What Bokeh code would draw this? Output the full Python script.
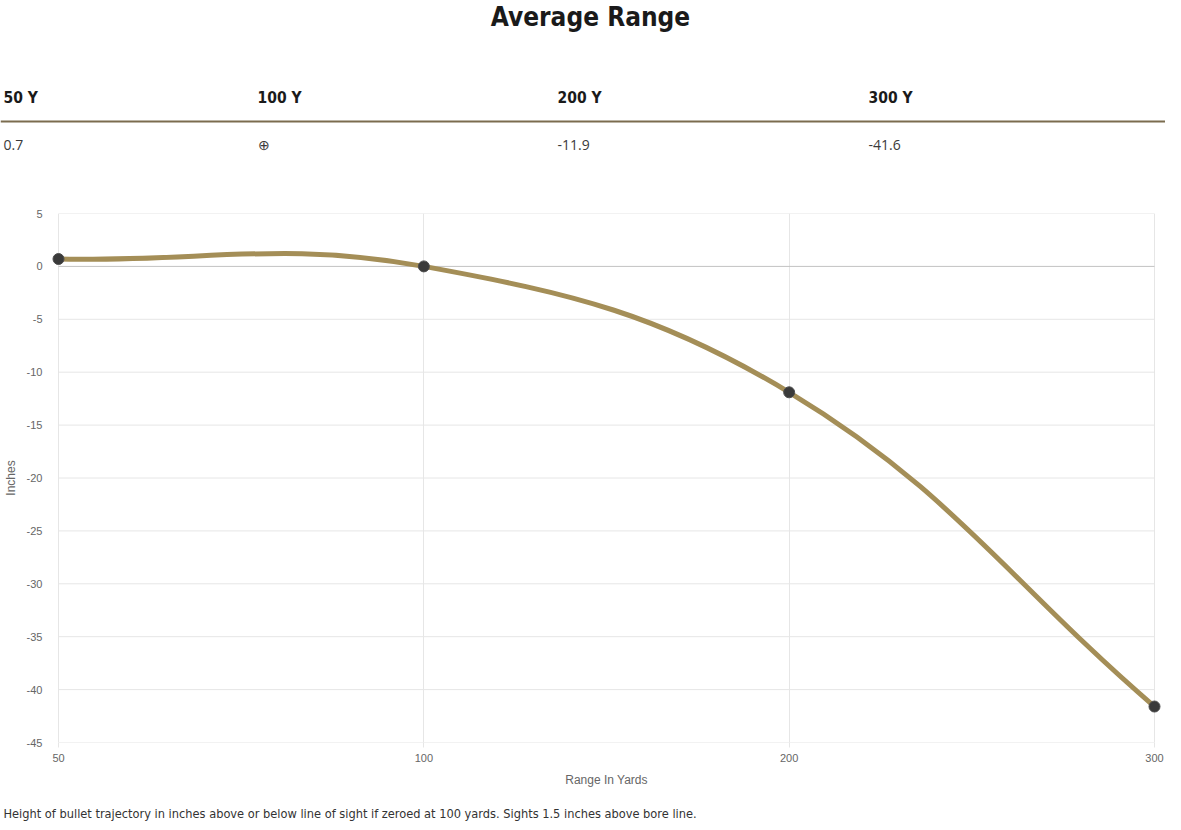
import math
from bokeh.plotting import figure
from bokeh.layouts import column
from bokeh.models import Range1d, FixedTicker
from bokeh.core.properties import value
from bokeh.embed import file_html
from bokeh.resources import INLINE

# ---------------- data ----------------
chart_title = "Average Range"
ranges_yd = ["50", "100", "200", "300"]
drop_inches = [0.7, 0.0, -11.9, -41.6]
y_ticks = [-45, -40, -35, -30, -25, -20, -15, -10, -5, 0, 5]
x_axis_title = "Range In Yards"
y_axis_title = "Inches"
zero_symbol = "⊕"
caption = ("Height of bullet trajectory in inches above or below line of sight "
           "if zeroed at 100 yards. Sights 1.5 inches above bore line.")

header_labels = [f"{r} Y" for r in ranges_yd]
header_values = [zero_symbol if v == 0 else f"{v:g}" for v in drop_inches]

# ---------------- style / layout ----------------
W = 1165
H1, H2, H3 = 190, 600, 32
BORDER_L, BORDER_R, BORDER_T, BORDER_B = 51, 4, 23, 48
COND = "DejaVu Sans Condensed, Liberation Sans Narrow, Roboto"
LINE_COLOR = "#a48e57"
RULE_COLOR = "#7b6c4f"


def text_strip(height):
    f = figure(width=W, height=height, x_range=Range1d(0, W), y_range=Range1d(height, 0),
               x_axis_location=None, y_axis_location=None,
               output_backend="svg", toolbar_location=None, min_border=0)
    f.frame_align = False
    f.grid.visible = False
    f.outline_line_color = None
    return f


# ---------------- header (title + table) ----------------
hdr = text_strip(H1)
hdr.text(x=[590], y=[16], text=[chart_title], text_font=value(COND),
         text_font_style="bold", text_font_size="26px", text_color="#1a1a1a",
         text_align="center", text_baseline="middle")

col_x = [3, 257, 557, 868]
hdr.text(x=col_x, y=[97] * 4, text=header_labels, text_font=value(COND),
         text_font_style="bold", text_font_size="15.5px", text_color="#1a1a1a",
         text_align="left", text_baseline="middle")
hdr.segment(x0=[0], y0=[121], x1=[W], y1=[121], line_color=RULE_COLOR, line_width=2)
hdr.text(x=col_x, y=[144] * 4, text=header_values, text_font=value("Open Sans"),
         text_font_size="14px", text_color="#3a3a3a",
         text_align="left", text_baseline="middle")

# ---------------- chart ----------------
n = len(ranges_yd)
xs = list(range(n))
pad_px = 7
frame_w = W - BORDER_L - BORDER_R
frame_h = H2 - BORDER_T - BORDER_B
inner_w = frame_w - 2 * pad_px
pad = pad_px / (inner_w / (n - 1))

p = figure(width=W, height=H2, output_backend="svg", toolbar_location=None,
           x_range=Range1d(xs[0] - pad, xs[-1] + pad),
           y_range=Range1d(y_ticks[0], y_ticks[-1]),
           min_border_left=BORDER_L, min_border_right=BORDER_R,
           min_border_top=BORDER_T, min_border_bottom=BORDER_B)
p.frame_align = False
p.outline_line_color = None
p.background_fill_color = "white"
p.border_fill_color = "white"

# grid
p.xaxis.ticker = FixedTicker(ticks=xs)
p.xaxis.major_label_overrides = {i: r for i, r in enumerate(ranges_yd)}
p.xgrid.ticker = FixedTicker(ticks=xs)
p.xgrid.grid_line_color = "#e6e6e6"
p.ygrid.visible = False
p.yaxis.ticker = FixedTicker(ticks=y_ticks)
p.yaxis.major_label_overrides = {t: str(t) for t in y_ticks}

hx0 = [xs[0]] * len(y_ticks)
hx1 = [xs[-1]] * len(y_ticks)
hcol = ["#c2c2c2" if t == 0 else "#e6e6e6" for t in y_ticks]
p.segment(x0=hx0, y0=y_ticks, x1=hx1, y1=y_ticks, line_color=hcol, line_width=1)

# axes styling
for ax in (p.xaxis, p.yaxis):
    ax.axis_line_color = None
    ax.minor_tick_line_color = None
    ax.major_label_text_color = "#666666"
    ax.major_label_text_font = "Liberation Sans"
    ax.major_label_text_font_size = "11px"
    ax.axis_label_text_color = "#666666"
    ax.axis_label_text_font = "Liberation Sans"
    ax.axis_label_text_font_size = "12px"
    ax.axis_label_text_font_style = "normal"

p.yaxis.major_tick_line_color = None
p.yaxis.major_label_standoff = 3
p.yaxis.axis_label = y_axis_title
p.yaxis.axis_label_standoff = 6
p.xaxis.major_tick_line_color = "#e6e6e6"
p.xaxis.major_tick_in = 0
p.xaxis.major_tick_out = 5
p.xaxis.major_label_standoff = 6
p.xaxis.axis_label = x_axis_title
p.xaxis.axis_label_standoff = 8

# smooth curve (Chart.js style cardinal spline, tension 0.4)
sx = inner_w / (n - 1)
sy = frame_h / (y_ticks[-1] - y_ticks[0])
tension = 0.4
pts = [(x * sx, y * sy) for x, y in zip(xs, drop_inches)]
prev_cp, next_cp = [], []
for i in range(n):
    prv = pts[i - 1] if i > 0 else pts[i]
    cur = pts[i]
    nxt = pts[i + 1] if i < n - 1 else pts[i]
    d01 = math.hypot(cur[0] - prv[0], cur[1] - prv[1])
    d12 = math.hypot(nxt[0] - cur[0], nxt[1] - cur[1])
    tot = d01 + d12
    s01 = d01 / tot if tot else 0
    s12 = d12 / tot if tot else 0
    fa, fb = tension * s01, tension * s12
    prev_cp.append((cur[0] - fa * (nxt[0] - prv[0]), cur[1] - fa * (nxt[1] - prv[1])))
    next_cp.append((cur[0] + fb * (nxt[0] - prv[0]), cur[1] + fb * (nxt[1] - prv[1])))

p.bezier(x0=xs[:-1], y0=drop_inches[:-1], x1=xs[1:], y1=drop_inches[1:],
         cx0=[c[0] / sx for c in next_cp[:-1]], cy0=[c[1] / sy for c in next_cp[:-1]],
         cx1=[c[0] / sx for c in prev_cp[1:]], cy1=[c[1] / sy for c in prev_cp[1:]],
         line_color=LINE_COLOR, line_width=5)

p.scatter(x=xs, y=drop_inches, size=11, fill_color="#3a3a3a", line_color="#4d4d4d",
          line_width=1)

# ---------------- caption ----------------
cap = text_strip(H3)
cap.text(x=[3], y=[23], text=[caption], text_font=value(COND),
         text_font_size="12.7px", text_color="#333333",
         text_align="left", text_baseline="middle")

layout = column(hdr, p, cap, spacing=0)
open("out.html", "w").write(file_html(layout, INLINE))
